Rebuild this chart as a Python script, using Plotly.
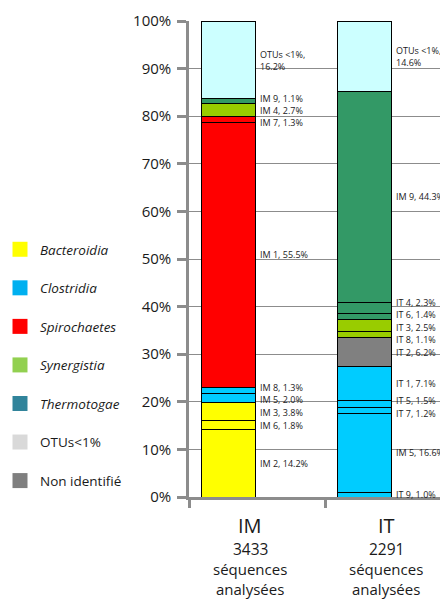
import plotly.graph_objects as go

# ---------------- data ----------------
categories = ["IM", "IT"]
sequences = [3433, 2291]

im_labels = ["IM 2", "IM 6", "IM 3", "IM 5", "IM 8", "IM 1", "IM 7", "IM 4", "IM 9", "OTUs <1%"]
im_values = [14.2, 1.8, 3.8, 2.0, 1.3, 55.5, 1.3, 2.7, 1.1, 16.2]
im_classes = ["Bacteroidia", "Bacteroidia", "Bacteroidia", "Clostridia", "Clostridia",
              "Spirochaetes", "Spirochaetes", "Synergistia", "Thermotogae", "OTUs<1%"]

it_labels = ["IT 9", "IM 5", "IT 7", "IT 5", "IT 1", "IT 2", "IT 8", "IT 3", "IT 6", "IT 4", "IM 9", "OTUs <1%"]
it_values = [1.0, 16.6, 1.2, 1.5, 7.1, 6.2, 1.1, 2.5, 1.4, 2.3, 44.3, 14.6]
it_classes = ["Clostridia", "Clostridia", "Clostridia", "Clostridia", "Clostridia",
              "Non identifié", "Synergistia", "Synergistia", "Thermotogae", "Thermotogae",
              "Thermotogae", "OTUs<1%"]

legend_names = ["Bacteroidia", "Clostridia", "Spirochaetes", "Synergistia", "Thermotogae",
                "OTUs<1%", "Non identifié"]
legend_italic = [True, True, True, True, True, False, False]
legend_colors = ["#FFFF00", "#00B0F0", "#FF0000", "#92D050", "#31849B", "#D9D9D9", "#7F7F7F"]

bar_colors = {"Bacteroidia": "#FFFF00", "Clostridia": "#00CCFF", "Spirochaetes": "#FF0000",
              "Synergistia": "#99CC00", "Thermotogae": "#339966", "OTUs<1%": "#CCFFFF",
              "Non identifié": "#808080"}

columns = [(im_labels, im_values, im_classes), (it_labels, it_values, it_classes)]

FONT = "Open Sans"
TXT = "#1a1a1a"
GRID = "#8c8c8c"

# page body has an 8px margin: figure drawn at (8, 8) in a 448x600 window
W, H = 440, 592
ML, MR, MT, MB = 181, 0, 13, 103


def spread(mids, gap, iters=80):
    pos = list(mids)
    for _ in range(iters):
        for k in range(1, len(pos)):
            d = pos[k] - pos[k - 1]
            if d < gap:
                s = (gap - d) / 2
                pos[k - 1] -= s
                pos[k] += s
    return pos


fig = go.Figure()
annotations = []

for ci, (labels, values, classes) in enumerate(columns):
    cat = categories[ci]
    cum = 0.0
    mids = []
    for lab, val, cls in zip(labels, values, classes):
        fig.add_trace(go.Bar(
            x=[cat], y=[val], width=0.40, offset=-0.41,
            marker=dict(color=bar_colors[cls], line=dict(color="black", width=1)),
            showlegend=False, hoverinfo="skip"))
        mids.append(cum + val / 2)
        cum += val
    ys = spread(mids, 2.6)
    for lab, val, y in zip(labels, values, ys):
        if lab.startswith("OTUs"):
            text = f"{lab},<br>{val:.1f}%"
        else:
            text = f"{lab}, {val:.1f}%"
        annotations.append(dict(
            x=cat, y=y, xref="x", yref="y", text=text, showarrow=False,
            xanchor="left", yanchor="middle", align="left", xshift=1,
            font=dict(family=FONT, size=9, color=TXT)))

# legend entries
for name, ital, col in zip(legend_names, legend_italic, legend_colors):
    fig.add_trace(go.Scatter(
        x=[None], y=[None], mode="markers",
        marker=dict(symbol="square", size=15, color=col),
        name=f"<i>{name}</i>" if ital else name,
        legendgroup=name, showlegend=True, hoverinfo="skip"))

# category labels below axis
for cat, n in zip(categories, sequences):
    lines = [(cat, 20, -28), (str(n), 15.5, -52), ("séquences<br>analysées", 15, -82)]
    for t, sz, sh in lines:
        annotations.append(dict(
            x=cat, y=0, xref="x", yref="paper", text=t, showarrow=False,
            xanchor="center", yanchor="middle", yshift=sh, xshift=-7,
            font=dict(family=FONT, size=sz, color=TXT)))

fig.update_layout(
    width=W, height=H,
    margin=dict(l=ML, r=MR, t=MT, b=MB, autoexpand=False),
    barmode="stack",
    paper_bgcolor="white", plot_bgcolor="white",
    font=dict(family=FONT, color=TXT),
    annotations=annotations,
    showlegend=True,
    legend=dict(
        xref="container", yref="container", x=0, y=1 - 226 / H,
        xanchor="left", yanchor="top", tracegroupgap=18, indentation=-8,
        font=dict(family=FONT, size=13.5, color=TXT),
        bgcolor="rgba(0,0,0,0)", itemclick=False, itemdoubleclick=False),
    xaxis=dict(
        type="category", range=[-0.5, 1.404], showgrid=False,
        showline=True, linecolor=GRID, linewidth=2.5,
        ticks="outside", tickson="boundaries", ticklen=8, tickwidth=2.5, tickcolor=GRID,
        showticklabels=False, fixedrange=True),
    yaxis=dict(
        range=[0, 100], dtick=10, ticksuffix="%",
        showgrid=True, gridcolor=GRID, gridwidth=1.3, zeroline=False,
        showline=True, linecolor=GRID, linewidth=2.5,
        ticks="outside", ticklen=9, tickwidth=2.5, tickcolor=GRID,
        ticklabelstandoff=3,
        tickfont=dict(family=FONT, size=15, color=TXT), fixedrange=True),
)

fig.write_html("out.html")
